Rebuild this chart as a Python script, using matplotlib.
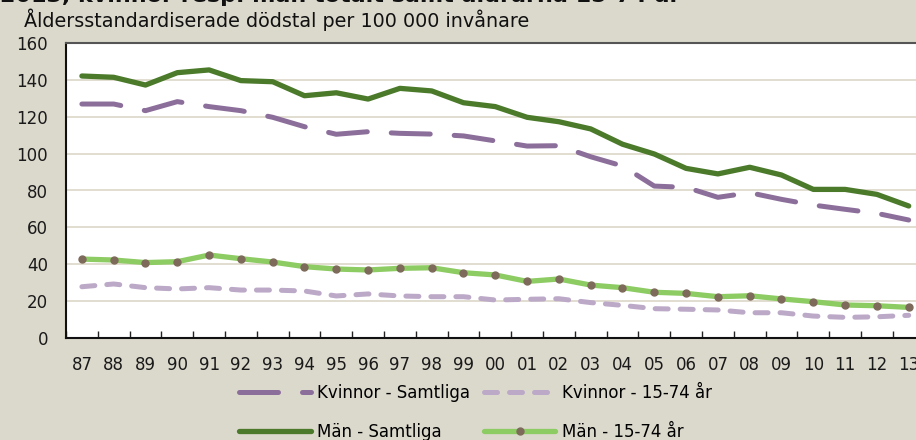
import matplotlib.pyplot as plt
import numpy as np

# years 1987-2013, shown as two-digit labels
years = ["87", "88", "89", "90", "91", "92", "93", "94", "95", "96", "97", "98", "99",
         "00", "01", "02", "03", "04", "05", "06", "07", "08", "09", "10", "11", "12", "13"]

kvinnor_samtliga = [126.9, 126.9, 123.3, 128.2, 125.5, 123.3, 119.7, 114.6, 110.5, 111.9,
                    111.0, 110.6, 109.6, 106.9, 104.1, 104.3, 98.3, 93.3, 82.4, 81.7,
                    76.3, 78.8, 75.2, 72.1, 69.8, 67.6, 64.0]
kvinnor_1574 = [27.8, 29.3, 27.3, 26.6, 27.3, 26.0, 26.0, 25.5, 22.8, 23.9, 22.8, 22.4, 22.4,
                20.6, 21.0, 21.3, 19.2, 17.7, 15.9, 15.6, 15.2, 13.7, 13.7, 11.9, 11.2, 11.5, 12.3]
man_samtliga = [142.1, 141.4, 137.2, 143.9, 145.4, 139.6, 139.0, 131.4, 133.0, 129.6, 135.4,
                134.0, 127.6, 125.5, 119.7, 117.3, 113.4, 105.1, 99.8, 92.0, 89.0, 92.6,
                88.4, 80.6, 80.6, 77.9, 71.6]
man_1574 = [42.8, 42.3, 40.9, 41.4, 45.0, 43.0, 41.2, 38.7, 37.4, 36.9, 37.8, 38.1, 35.4,
            34.2, 30.7, 32.0, 28.7, 27.3, 24.8, 24.2, 22.4, 22.9, 21.2, 19.7, 17.9, 17.5, 16.6]

bg = '#dbd8cc'
plt.rcParams['font.family'] = ['DejaVu Sans']

fig = plt.figure(figsize=(9.16, 4.4), dpi=100, facecolor=bg)
ax = fig.add_axes([66 / 916, 1 - 338 / 440, 858.6 / 916, 295 / 440])
ax.set_facecolor('white')

x = np.arange(len(years))

l1, = ax.plot(x, kvinnor_samtliga, color='#8c6e9b', lw=3.6, linestyle=(0, (7.8, 4.8)),
              dash_capstyle='round', solid_capstyle='round', label='Kvinnor - Samtliga', zorder=3)
l2, = ax.plot(x, kvinnor_1574, color='#bca9c8', lw=3.6, linestyle=(0, (2.6, 2.4)),
              dash_capstyle='round', label='Kvinnor - 15-74 år', zorder=3)
l3, = ax.plot(x, man_samtliga, color='#4b7a2b', lw=3.8, solid_capstyle='round',
              label='Män - Samtliga', zorder=3)
l4, = ax.plot(x, man_1574, color='#8dcb63', lw=3.8, solid_capstyle='round',
              marker='o', markersize=5, markerfacecolor='#7e6a5b', markeredgecolor='#7e6a5b',
              label='Män - 15-74 år', zorder=3)

ax.set_xlim(-0.5, len(years) - 0.5)
ax.set_ylim(0, 160)
ax.set_yticks(np.arange(0, 161, 20))
ax.yaxis.grid(True, color='#dedacb', lw=1.3)
ax.set_axisbelow(True)

ax.set_xticks(x)
ax.set_xticklabels(years)
ax.set_xticks(np.arange(-0.5, len(years), 1), minor=True)
ax.tick_params(axis='x', which='major', length=0, pad=13, labelsize=12, colors='#1a1a1a')
ax.tick_params(axis='x', which='minor', direction='in', length=5, width=1, color='#222222')
ax.tick_params(axis='y', length=0, pad=13, labelsize=12, colors='#1a1a1a')

ax.spines['right'].set_visible(False)
ax.spines['left'].set_color('#111111')
ax.spines['left'].set_linewidth(1.5)
ax.spines['bottom'].set_color('#111111')
ax.spines['bottom'].set_linewidth(1.5)
ax.spines['top'].set_color('#555555')
ax.spines['top'].set_linewidth(1.5)

# first title line is cut by the top edge, as in the source picture
fig.text(0.0, 1 - 2 / 440, '2013, kvinnor resp. män totalt samt åldrarna 15-74 år',
         fontsize=16, fontweight='bold', va='baseline', ha='left', color='#111111')
fig.text(24 / 916, 1 - 27 / 440, 'Åldersstandardiserade dödstal per 100 000 invånare',
         fontsize=13.8, va='baseline', ha='left', color='#111111')

fig.legend([l1, l3, l2, l4], [l1.get_label(), l3.get_label(), l2.get_label(), l4.get_label()],
           ncol=2, loc='upper left', bbox_to_anchor=(239 / 916, 1 - 384 / 440),
           frameon=False, fontsize=12, handlelength=4.3, handletextpad=0.4,
           columnspacing=0.8, labelspacing=1.25, borderpad=0, borderaxespad=0)

fig.savefig('out.png', dpi=100, facecolor=bg)
